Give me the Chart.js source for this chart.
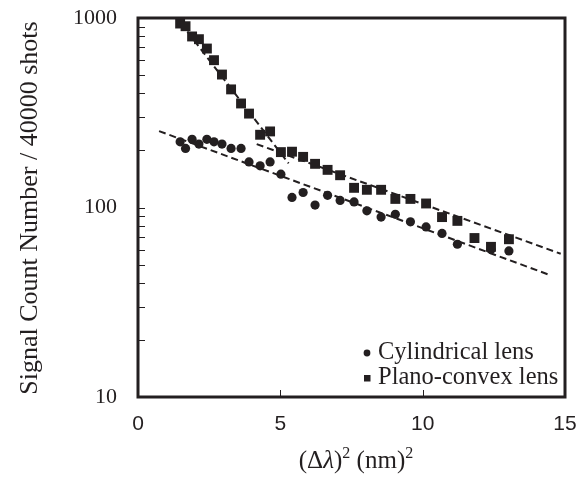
<!DOCTYPE html>
<html>
<head>
<meta charset="utf-8">
<script src="https://cdn.jsdelivr.net/npm/chart.js@4/dist/chart.umd.min.js"></script>
<style>
  html, body { margin: 0; padding: 0; background: #fff; }
  #wrap { width: 586px; height: 477px; }
</style>
</head>
<body>
<div id="wrap"><canvas id="grafico" width="586" height="477"></canvas></div>
<script>
// (delta lambda)^2 in nm^2, same for both lenses
var deltaLambda2 = [1.48, 1.67, 1.90, 2.14, 2.42, 2.67, 2.95, 3.27, 3.62, 3.90,
                    4.29, 4.64, 5.02, 5.41, 5.80, 6.22, 6.66, 7.10, 7.59, 8.04,
                    8.54, 9.04, 9.57, 10.12, 10.68, 11.22, 11.82, 12.40, 13.03];

var planoConvex = [935, 905, 799, 773, 690, 599, 503, 420, 354, 313,
                   242, 252, 196, 197, 185, 170, 158, 148, 127, 124,
                   124, 111, 111, 105, 89, 85, 69, 62, 68];

// no visible circle at 11.82 (hidden / missing)
var cylindrical = [222, 205, 229, 216, 229, 222, 216, 205, 205, 174,
                   166, 174, 150, 113, 120, 103, 116, 109, 107, 96,
                   89, 92, 84, 79, 73, 64, null, 60, 59];

// dashed exponential fits, [x start, x end] and [y start, y end]
var fitSteepX = [1.50, 5.29];
var fitSteepY = [942, 171];
var fitPlanoX = [4.17, 14.85];
var fitPlanoY = [216, 57];
var fitCylX = [0.74, 14.47];
var fitCylY = [253, 44];

var xTicks = [0, 5, 10, 15];
var yMajorTicks = [10, 100, 1000];
var yMinorSteps = [2, 3, 4, 5, 6, 7, 8, 9];

var legendLabels = ['Cylindrical lens', 'Plano-convex lens'];
var yTitle = 'Signal Count Number / 40000 shots';

var ink = '#231f20';
var serif = "'Liberation Serif', 'DejaVu Serif', serif";
var sans = "'Liberation Sans', Arial, sans-serif";

function puntos(xs, ys) {
    var out = [];
    for (var i = 0; i < xs.length; i++) {
        if (ys[i] === null) continue;
        out.push({x: xs[i], y: ys[i]});
    }
    return out;
}

function lineaAjuste(xs, ys) {
    return {
        type: 'line',
        data: puntos(xs, ys),
        borderColor: ink,
        borderWidth: 2,
        borderDash: [7, 4],
        pointRadius: 0,
        fill: false,
        showLine: true,
        order: 2
    };
}

// no extra label padding, the plot box is fixed by layout.padding
function sinPadding(scale) {
    scale.paddingTop = 0;
    scale.paddingBottom = 0;
    scale.paddingLeft = 0;
    scale.paddingRight = 0;
}

var decoraciones = {
    id: 'decoraciones',
    afterDraw: function(chart) {
        var ctx = chart.ctx;
        var a = chart.chartArea;
        var xs = chart.scales.x;
        var ys = chart.scales.y;
        ctx.save();
        ctx.strokeStyle = ink;
        ctx.fillStyle = ink;

        // inward tick marks
        ctx.lineWidth = 1;
        ys.ticks.forEach(function(t) {
            var p = Math.round(ys.getPixelForValue(t.value)) + 0.5;
            ctx.beginPath();
            ctx.moveTo(a.left, p);
            ctx.lineTo(a.left + 7, p);
            ctx.stroke();
        });
        xTicks.forEach(function(v) {
            var p = Math.round(xs.getPixelForValue(v)) + 0.5;
            ctx.beginPath();
            ctx.moveTo(p, a.bottom);
            ctx.lineTo(p, a.bottom - 7);
            ctx.stroke();
        });

        // frame
        ctx.lineWidth = 3;
        ctx.strokeRect(a.left, a.top, a.right - a.left, a.bottom - a.top);

        // legend
        ctx.font = '24.5px ' + serif;
        ctx.textAlign = 'left';
        ctx.textBaseline = 'middle';
        ctx.beginPath();
        ctx.arc(367, 353, 3.4, 0, Math.PI * 2);
        ctx.fill();
        ctx.fillText(legendLabels[0], 378, 353);
        ctx.fillRect(364, 375, 6.5, 6.5);
        ctx.fillText(legendLabels[1], 378, 378);

        // y title
        ctx.save();
        ctx.translate(30, 208);
        ctx.rotate(-Math.PI / 2);
        ctx.textAlign = 'center';
        ctx.font = '26px ' + serif;
        ctx.fillText(yTitle, 0, 0);
        ctx.restore();

        // x title with italic lambda and superscripts
        var normal = '25px ' + serif;
        var piezas = [
            {t: '(\u0394', f: normal, dy: 0},
            {t: '\u03bb', f: 'italic 25px ' + serif, dy: 0},
            {t: ')', f: normal, dy: 0},
            {t: '2', f: '16px ' + serif, dy: -10},
            {t: ' (nm)', f: normal, dy: 0},
            {t: '2', f: '16px ' + serif, dy: -10}
        ];
        var total = 0;
        piezas.forEach(function(p) { ctx.font = p.f; p.w = ctx.measureText(p.t).width; total += p.w; });
        var x = 356 - total / 2;
        ctx.textBaseline = 'alphabetic';
        piezas.forEach(function(p) {
            ctx.font = p.f;
            ctx.fillText(p.t, x, 468 + p.dy);
            x += p.w;
        });
        ctx.restore();
    }
};

var ctx = document.getElementById('grafico');
var myChart = new Chart(ctx, {
    type: 'scatter',
    data: {
        datasets: [
            {
                label: legendLabels[0],
                data: puntos(deltaLambda2, cylindrical),
                pointStyle: 'circle',
                pointRadius: 4.6,
                backgroundColor: ink,
                borderColor: ink,
                borderWidth: 0,
                order: 1
            },
            {
                label: legendLabels[1],
                data: puntos(deltaLambda2, planoConvex),
                pointStyle: 'rect',
                pointRadius: 7,
                backgroundColor: ink,
                borderColor: ink,
                borderWidth: 0,
                order: 0
            },
            lineaAjuste(fitSteepX, fitSteepY),
            lineaAjuste(fitPlanoX, fitPlanoY),
            lineaAjuste(fitCylX, fitCylY)
        ]
    },
    options: {
        responsive: false,
        animation: false,
        devicePixelRatio: 1,
        layout: { padding: { left: 0, top: 18, right: 21, bottom: 0 } },
        plugins: {
            legend: { display: false },
            tooltip: { enabled: false }
        },
        scales: {
            x: {
                type: 'linear',
                min: 0,
                max: 15,
                grid: { display: false, drawTicks: false },
                border: { display: false },
                afterBuildTicks: function(scale) {
                    scale.ticks = xTicks.map(function(v) { return {value: v}; });
                },
                afterFit: function(scale) {
                    scale.height = 80;
                    sinPadding(scale);
                },
                ticks: {
                    padding: 15,
                    maxRotation: 0,
                    color: ink,
                    font: { family: sans, size: 21 }
                }
            },
            y: {
                type: 'logarithmic',
                min: 10,
                max: 1000,
                grid: { display: false, drawTicks: false },
                border: { display: false },
                afterBuildTicks: function(scale) {
                    var t = [];
                    for (var d = 0; d < yMajorTicks.length; d++) {
                        t.push({value: yMajorTicks[d], major: true});
                        if (d < yMajorTicks.length - 1) {
                            yMinorSteps.forEach(function(m) {
                                t.push({value: m * yMajorTicks[d], major: false});
                            });
                        }
                    }
                    scale.ticks = t;
                },
                afterFit: function(scale) {
                    scale.width = 138;
                    sinPadding(scale);
                },
                ticks: {
                    autoSkip: false,
                    padding: 21,
                    color: ink,
                    font: { family: serif, size: 22 },
                    callback: function(value) {
                        return yMajorTicks.indexOf(value) >= 0 ? String(value) : '';
                    }
                }
            }
        }
    },
    plugins: [decoraciones]
});
</script>
</body>
</html>
